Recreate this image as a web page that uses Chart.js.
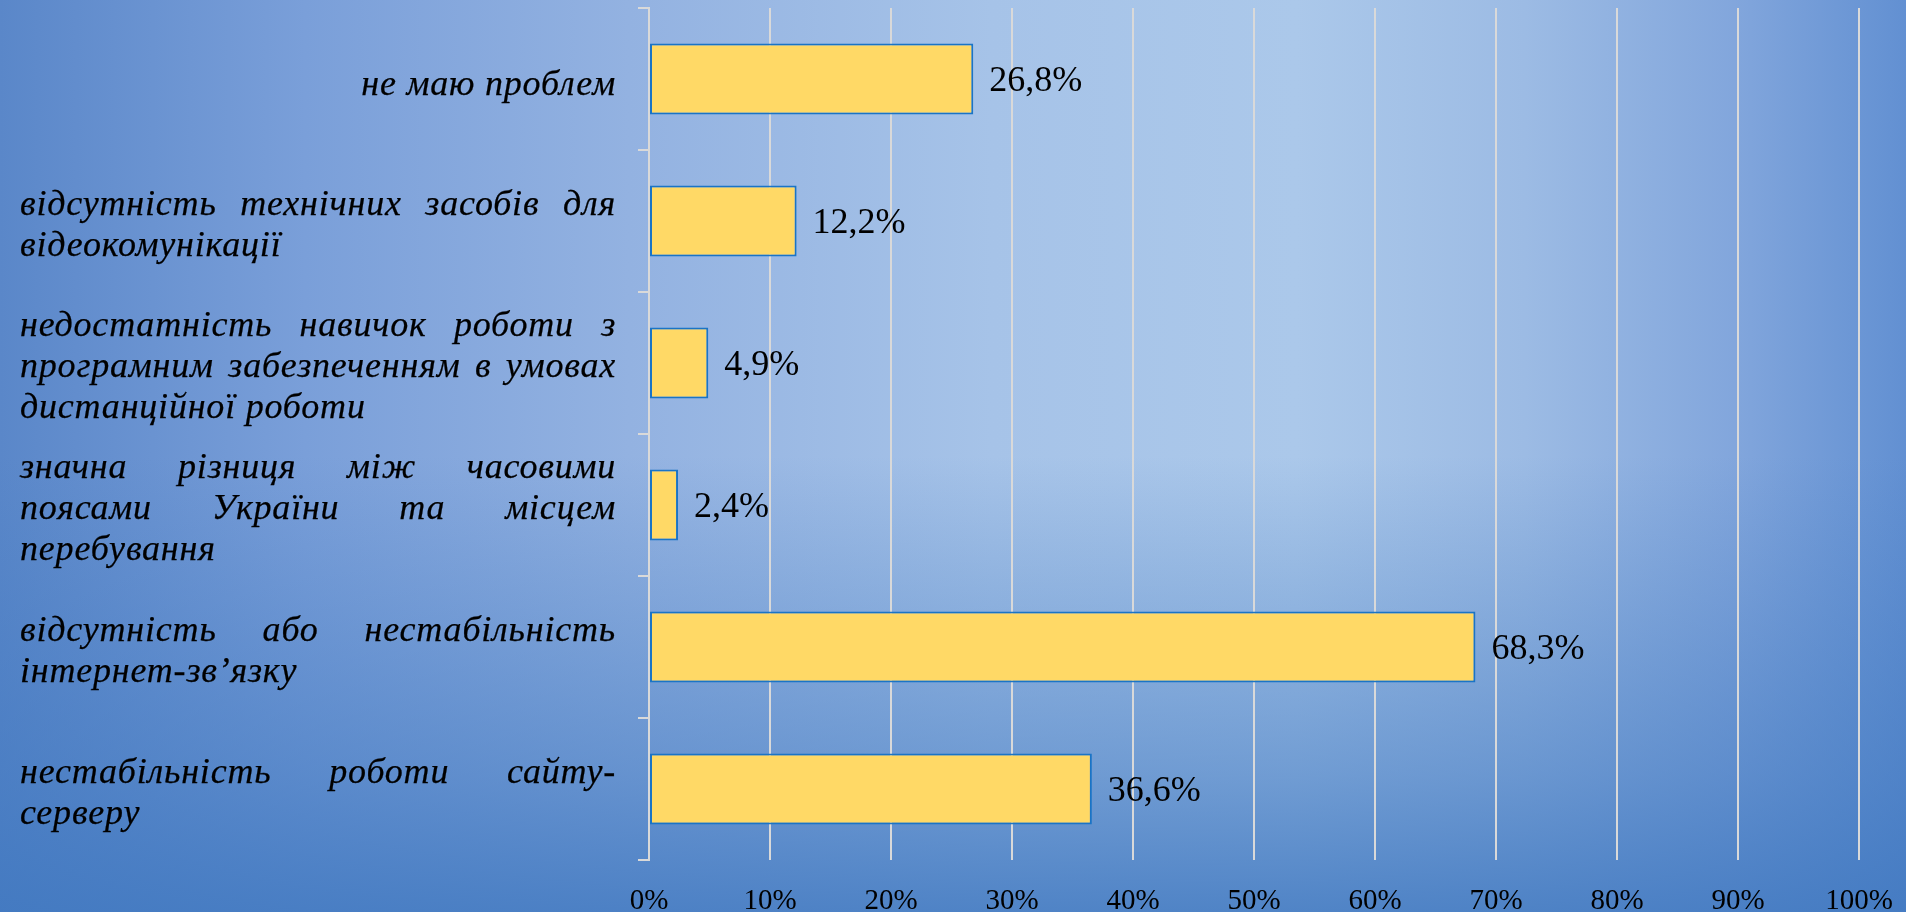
<!DOCTYPE html>
<html>
<head>
<meta charset="utf-8">
<script src="https://cdn.jsdelivr.net/npm/chart.js@4/dist/chart.umd.min.js"></script>
<style>
  html, body { margin: 0; padding: 0; width: 1906px; height: 912px; overflow: hidden; }
  body {
    background:
      linear-gradient(to bottom, rgba(64,120,192,0) 50%, rgba(64,120,192,0.55) 85%, rgba(64,120,192,0.85) 100%),
      linear-gradient(to right, #5a87c9 0%, #7a9fd9 16%, #93b2e1 33%, #a6c3e8 52%, #abc8ea 68%, #9cbbe4 80%, #82a6dc 91%, #6290d2 100%);
  }
  #wrap { position: absolute; left: 0; top: 0; width: 1906px; height: 912px; }
</style>
</head>
<body>
<div id="wrap"><canvas id="c" width="1906" height="912"></canvas></div>
<script>
const categories = [
  ["не маю проблем"],
  ["відсутність технічних засобів для", "відеокомунікації"],
  ["недостатність навичок роботи з", "програмним забезпеченням в умовах", "дистанційної роботи"],
  ["значна різниця між часовими", "поясами України та місцем", "перебування"],
  ["відсутність або нестабільність", "інтернет-зв’язку"],
  ["нестабільність роботи сайту-", "серверу"]
];
const values = [26.8, 12.2, 4.9, 2.4, 68.3, 36.6];
const xTickLabels = ["0%", "10%", "20%", "30%", "40%", "50%", "60%", "70%", "80%", "90%", "100%"];

const SERIF = '"Liberation Serif", "Times New Roman", serif';

const justifiedLabels = {
  id: 'justifiedLabels',
  afterDraw(chart) {
    const ctx = chart.ctx;
    const ys = chart.scales.y;
    ctx.save();
    ctx.font = 'italic 36px ' + SERIF;
    if ('letterSpacing' in ctx) ctx.letterSpacing = '0.8px';
    ctx.fillStyle = '#000';
    ctx.strokeStyle = '#000';
    ctx.lineWidth = 0.25;
    ctx.textBaseline = 'middle';
    const x0 = 20, x1 = 616, lh = 41;
    const draw = (t, x, y) => { ctx.fillText(t, x, y); ctx.strokeText(t, x, y); };
    categories.forEach((lines, i) => {
      const cy = ys.getPixelForTick(i) + 5;
      const n = lines.length;
      lines.forEach((line, j) => {
        const y = cy + (j - (n - 1) / 2) * lh;
        const words = line.split(' ');
        if (n === 1) {
          ctx.textAlign = 'right';
          draw(line, x1, y + 2);
        } else if (j < n - 1 && words.length > 1) {
          ctx.textAlign = 'left';
          const ws = words.map(w => ctx.measureText(w).width);
          const total = ws.reduce((a, b) => a + b, 0);
          const gap = (x1 - x0 - total) / (words.length - 1);
          let x = x0;
          words.forEach((w, k) => { draw(w, x, y); x += ws[k] + gap; });
        } else {
          ctx.textAlign = 'left';
          draw(line, x0, y);
        }
      });
    });
    ctx.restore();
  }
};

const valueLabels = {
  id: 'valueLabels',
  afterDatasetsDraw(chart) {
    const ctx = chart.ctx;
    const meta = chart.getDatasetMeta(0);
    ctx.save();
    ctx.font = '36px ' + SERIF;
    ctx.fillStyle = '#000';
    ctx.textAlign = 'left';
    ctx.textBaseline = 'middle';
    meta.data.forEach((bar, i) => {
      const txt = values[i].toFixed(1).replace('.', ',') + '%';
      ctx.fillText(txt, bar.x + 16, bar.y + 3);
    });
    ctx.restore();
  }
};

new Chart(document.getElementById('c'), {
  type: 'bar',
  data: {
    labels: categories,
    datasets: [{
      data: values,
      backgroundColor: '#ffd966',
      borderColor: '#1a74c6',
      borderWidth: 2,
      borderSkipped: false,
      categoryPercentage: 1,
      barPercentage: 0.5
    }]
  },
  options: {
    indexAxis: 'y',
    responsive: false,
    animation: false,
    devicePixelRatio: 1,
    layout: { autoPadding: false, padding: { top: 8, right: 47, left: 0, bottom: 0 } },
    plugins: { legend: { display: false }, tooltip: { enabled: false } },
    scales: {
      x: {
        min: 0, max: 100,
        ticks: {
          stepSize: 10,
          color: '#000',
          font: { family: SERIF, size: 29 },
          padding: 24,
          maxRotation: 0,
          callback: (v, i) => xTickLabels[i]
        },
        grid: { color: '#d9d9d9', lineWidth: 2, drawTicks: false },
        border: { display: false },
        afterFit: s => { s.height = 52; s.paddingLeft = 0; s.paddingRight = 0; }
      },
      y: {
        ticks: { display: false },
        grid: { offset: true, drawOnChartArea: false, drawTicks: true, tickLength: 11, color: '#d9d9d9', lineWidth: 2 },
        border: { display: true, color: '#d9d9d9', width: 2 },
        afterFit: s => { s.width = 649; s.paddingTop = 0; s.paddingBottom = 0; }
      }
    }
  },
  plugins: [justifiedLabels, valueLabels]
});
</script>
</body>
</html>
